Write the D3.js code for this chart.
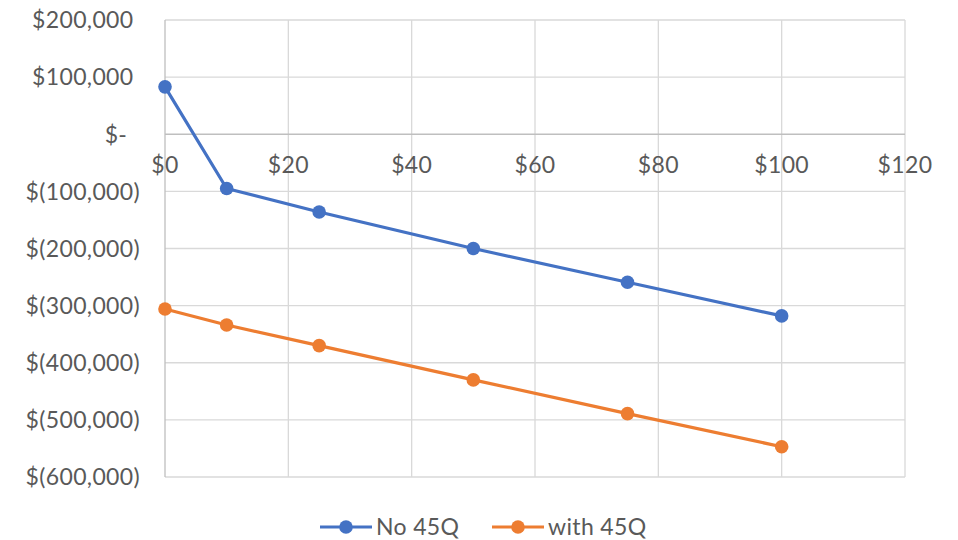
<!DOCTYPE html>
<html>
<head>
<meta charset="utf-8">
<script src="https://cdn.jsdelivr.net/npm/d3@7"></script>
<style>
  html, body { margin: 0; padding: 0; background: #fff; }
  svg { display: block; font-family: "Lato", "DejaVu Sans", sans-serif; }
</style>
</head>
<body>
<svg id="chart" width="958" height="540"></svg>
<script>
// Carbon price ($/t) on x, net value on y
const prices = [0, 10, 25, 50, 75, 100];
const noCredit = [83000, -95000, -136000, -200000, -259000, -318000];
const withCredit = [-306000, -334000, -370000, -430000, -489000, -547000];
const seriesNames = ["No 45Q", "with 45Q"];
const seriesColors = ["#4472C4", "#ED7D31"];
const xTicks = [0, 20, 40, 60, 80, 100, 120];
const yTicks = [200000, 100000, 0, -100000, -200000, -300000, -400000, -500000, -600000];

const svg = d3.select("#chart");
const m = { left: 165, right: 905, top: 20, bottom: 477 };

const x = d3.scaleLinear().domain([0, 120]).range([m.left, m.right]);
const y = d3.scaleLinear().domain([-600000, 200000]).range([m.bottom, m.top]);

const textColor = "#595959";
const fontSize = 23;
const spacing = 0.35;

// Accounting-style labels: positives padded so digits line up with the ")"
function yLabel(sel, v) {
  const t = sel.append("text")
    .attr("x", 140).attr("y", y(v)).attr("dy", "0.36em")
    .attr("text-anchor", "end").attr("fill", textColor)
    .attr("font-size", fontSize).attr("letter-spacing", spacing);
  if (v === 0) {
    t.append("tspan").text("$-");
    t.append("tspan").attr("fill-opacity", 0).text(" )");
  } else if (v < 0) {
    t.text("$(" + d3.format(",")(-v) + ")");
  } else {
    t.append("tspan").text("$" + d3.format(",")(v));
    t.append("tspan").attr("fill-opacity", 0).text(")");
  }
}

// Gridlines
const grid = svg.append("g");
grid.selectAll("line.h").data(yTicks.filter(v => v !== 0)).join("line")
  .attr("x1", m.left).attr("x2", m.right)
  .attr("y1", d => y(d)).attr("y2", d => y(d))
  .attr("stroke", "#d9d9d9").attr("stroke-width", 1.3);
grid.selectAll("line.v").data(xTicks.filter(v => v !== 0)).join("line")
  .attr("y1", m.top).attr("y2", m.bottom)
  .attr("x1", d => x(d)).attr("x2", d => x(d))
  .attr("stroke", "#d9d9d9").attr("stroke-width", 1.3);

// Axis lines: vertical at x=0, horizontal at y=0
svg.append("line").attr("x1", x(0)).attr("x2", x(0)).attr("y1", m.top).attr("y2", m.bottom)
  .attr("stroke", "#bfbfbf").attr("stroke-width", 1.3);
svg.append("line").attr("x1", m.left).attr("x2", m.right).attr("y1", y(0)).attr("y2", y(0))
  .attr("stroke", "#bfbfbf").attr("stroke-width", 1.3);

// Y tick labels
const yl = svg.append("g");
yTicks.forEach(v => yLabel(yl, v));

// X tick labels just below the zero line
svg.append("g").selectAll("text").data(xTicks).join("text")
  .attr("x", d => x(d)).attr("y", y(0) + 39)
  .attr("text-anchor", "middle").attr("fill", textColor)
  .attr("font-size", fontSize).attr("letter-spacing", spacing)
  .text(d => "$" + d);

// Series
const line = d3.line().x(d => x(d[0])).y(d => y(d[1]));
[noCredit, withCredit].forEach((vals, i) => {
  const pts = prices.map((p, j) => [p, vals[j]]);
  svg.append("path").datum(pts).attr("d", line)
    .attr("fill", "none").attr("stroke", seriesColors[i])
    .attr("stroke-width", 3.2).attr("stroke-linejoin", "round");
  svg.append("g").selectAll("circle").data(pts).join("circle")
    .attr("cx", d => x(d[0])).attr("cy", d => y(d[1])).attr("r", 6.8)
    .attr("fill", seriesColors[i]);
});

// Legend
const legendX = [320, 492];
const ly = 527;
seriesNames.forEach((name, i) => {
  const g = svg.append("g").attr("transform", `translate(${legendX[i]},${ly})`);
  g.append("line").attr("x1", 0).attr("x2", 52).attr("y1", 0).attr("y2", 0)
    .attr("stroke", seriesColors[i]).attr("stroke-width", 3.2);
  g.append("circle").attr("cx", 26).attr("cy", 0).attr("r", 6.8).attr("fill", seriesColors[i]);
  g.append("text").attr("x", 56).attr("y", 0).attr("dy", "0.36em")
    .attr("fill", textColor).attr("font-size", fontSize).attr("letter-spacing", spacing)
    .text(name);
});
</script>
</body>
</html>
